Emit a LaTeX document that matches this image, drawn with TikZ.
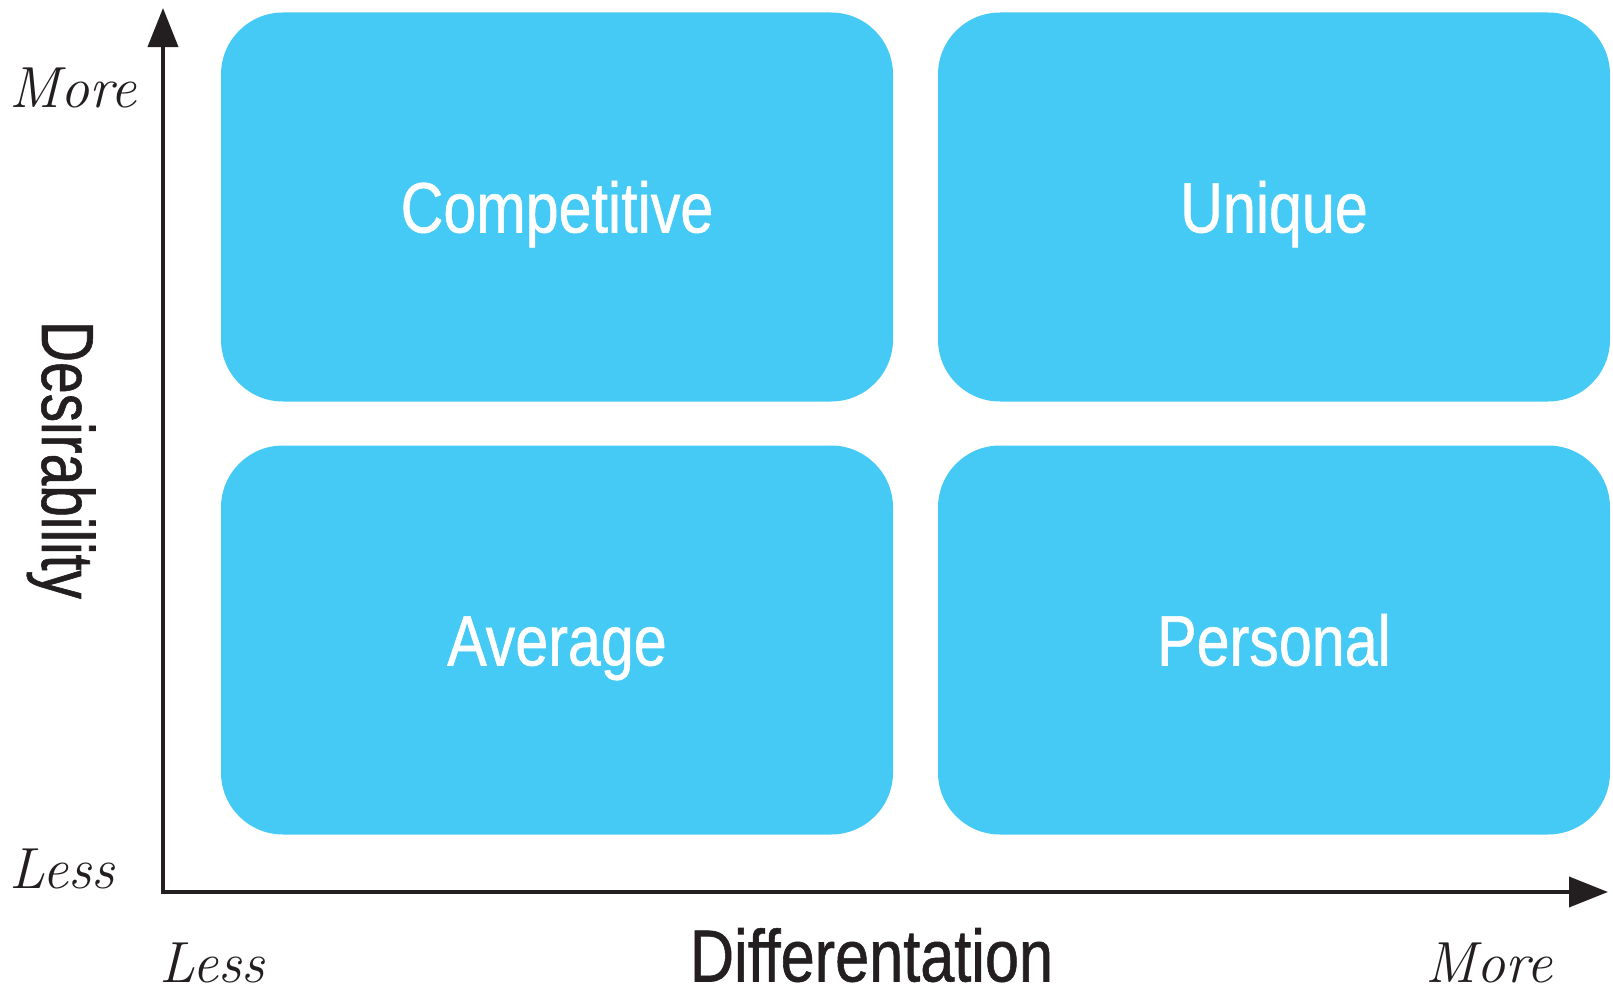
\documentclass[tikz,border=0pt]{standalone}
\usepackage{fontspec}
\newfontfamily\condfont[FakeStretch=0.83, FakeBold=0.8]{Liberation Sans}
\newfontfamily\condnarrow[FakeStretch=0.77, FakeBold=0.8]{Liberation Sans}
\usepackage{tikz}
\usetikzlibrary{arrows.meta, positioning}
\definecolor{quadblue}{RGB}{69,201,245}
\definecolor{axisblack}{RGB}{35,31,32}

\begin{document}
\begin{tikzpicture}[
    quad/.style={fill=quadblue, rounded corners=0.62cm, minimum width=6.72cm, minimum height=3.89cm, inner sep=0pt, outer sep=0pt, text=white, font=\condfont\fontsize{20.3}{24}\selectfont, text height=0.51cm, text depth=0cm},
    axis/.style={{Triangle[length=0.39cm, width=0.3cm]}-{Triangle[length=0.39cm, width=0.3cm]}, line width=1.1pt, axisblack},
    endlabel/.style={font=\itshape\fontsize{16.5}{20}\selectfont, inner sep=0pt, text=axisblack},
    axistitle/.style={font=\condfont\fontsize{21}{25}\selectfont, inner sep=0pt, text=axisblack}
]
\useasboundingbox (0,0) rectangle (16.13,9.89);

\node[quad] (competitive) at (5.57,7.82) {Competitive};
\node[quad, right=0.45cm of competitive] (unique) {Unique};
\node[quad, below=0.44cm of competitive] (average) {Average};
\node[quad, below=0.44cm of unique] (personal) {Personal};

\coordinate (origin) at (1.63,0.97);
\coordinate (ytop) at (1.63,9.81);
\coordinate (xend) at (16.08,0.97);
\draw[axis] (ytop) -- (origin) -- (xend);

\node[endlabel, anchor=base west] (ymore) at (0.09,8.82) {More};
\node[endlabel, anchor=base west] (yless) at (0.09,1.01) {Less};
\node[endlabel, anchor=base west] (xless) at (1.59,0.07) {Less};
\node[endlabel, anchor=base west] (xmore) at (14.25,0.07) {More};

\node[axistitle, anchor=base] (xtitle) at (8.715,0.075) {Differentation};
\node[axistitle, font=\condnarrow\fontsize{21}{25}\selectfont, anchor=base, rotate=-90] (ytitle) at (0.42,5.29) {Desirability};
\end{tikzpicture}
\end{document}
